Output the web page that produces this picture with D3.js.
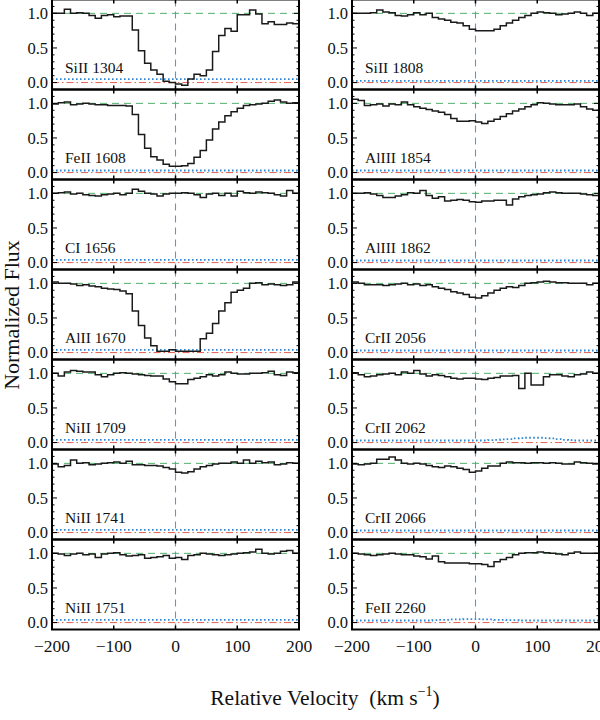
<!DOCTYPE html>
<html><head><meta charset="utf-8">
<script src="https://cdn.jsdelivr.net/npm/d3@7"></script>
<style>body{margin:0;background:#fff}svg{display:block}
text{font-family:"Liberation Serif","Times New Roman",Times,"DejaVu Serif",serif;}</style>
</head><body><svg id="c" width="600" height="720"></svg>
<script>
const velocityEdges = [-200,-190,-180,-170,-160,-150,-140,-130,-120,-110,-100,-90,-80,-70,-60,-50,-40,-30,-20,-10,0,10,20,30,40,50,60,70,80,90,100,110,120,130,140,150,160,170,180,190,200];
const xTicks = [-200,-100,0,100,200];
const yTicks = [0.0,0.5,1.0];
const leftLabels = ["SiII 1304","FeII 1608","CI 1656","AlII 1670","NiII 1709","NiII 1741","NiII 1751"];
const rightLabels = ["SiII 1808","AlIII 1854","AlIII 1862","CrII 2056","CrII 2062","CrII 2066","FeII 2260"];

const fluxSiII1304 = [1.0,1.0,1.06,1.0,1.01,1.0,0.97,0.93,0.97,0.98,0.95,0.96,0.96,0.76,0.46,0.28,0.18,0.12,0.02,0.0,-0.02,-0.04,0.05,0.12,0.10,0.18,0.45,0.68,0.78,0.74,0.98,0.98,1.05,0.99,0.85,0.88,0.84,0.84,0.86,0.85];
const fluxFeII1608 = [0.99,1.01,1.02,0.98,0.99,1.0,0.99,0.98,0.98,0.97,0.97,0.97,0.96,0.84,0.55,0.35,0.23,0.18,0.12,0.09,0.09,0.10,0.13,0.22,0.32,0.47,0.63,0.73,0.82,0.88,0.93,0.97,0.98,0.99,1.0,1.03,1.05,1.02,1.0,1.01];
const fluxCI1656 = [1.0,1.01,1.02,0.99,1.0,0.98,0.97,0.96,0.98,0.99,1.0,0.98,1.0,1.06,1.03,1.0,0.99,0.96,0.99,1.0,1.0,1.01,1.0,0.98,0.94,0.99,1.0,0.97,1.0,0.96,1.03,1.01,1.0,1.02,1.01,1.0,0.98,0.96,1.04,1.0];
const fluxAlII1670 = [1.02,1.0,1.0,0.99,0.97,0.98,0.96,0.95,0.93,0.92,0.91,0.89,0.85,0.6,0.39,0.21,0.1,0.02,0.02,0.04,0.02,0.02,0.02,0.02,0.2,0.28,0.42,0.6,0.72,0.87,0.9,0.93,1.0,1.01,0.98,0.99,0.98,0.97,0.98,1.02];
const fluxNiII1709 = [1.0,0.96,1.02,1.04,1.03,1.02,1.02,0.98,0.95,0.98,1.0,1.01,1.0,0.99,0.98,0.97,0.96,0.96,0.92,0.88,0.85,0.85,0.91,0.93,0.95,0.98,0.96,0.98,1.02,1.0,0.99,0.99,1.0,1.0,1.01,1.03,0.98,0.97,1.02,1.01];
const fluxNiII1741 = [0.99,0.95,0.97,1.05,1.0,1.01,0.98,0.99,1.0,1.01,1.02,1.0,1.03,0.98,0.98,0.97,0.97,0.96,0.94,0.92,0.87,0.86,0.88,0.92,0.95,0.97,0.99,1.0,1.0,1.02,1.0,1.05,1.0,1.03,1.01,1.02,0.98,0.99,1.01,1.0];
const fluxNiII1751 = [1.0,0.99,0.97,0.99,1.0,0.98,0.99,0.94,0.99,1.0,1.01,0.98,0.96,0.97,0.98,0.93,0.94,0.95,0.97,0.93,0.94,0.91,0.97,0.98,1.0,0.99,0.98,0.97,0.98,0.99,1.0,1.01,1.02,1.06,1.0,0.99,1.0,1.03,1.04,1.0];
const fluxSiII1808 = [1.0,1.0,1.0,1.01,1.05,1.02,1.01,0.97,0.96,0.98,1.01,0.98,1.0,0.94,0.92,0.9,0.87,0.86,0.82,0.77,0.75,0.75,0.75,0.77,0.82,0.86,0.9,0.94,0.97,1.0,1.02,1.01,1.0,0.98,0.99,1.0,1.02,1.0,0.97,1.0];
const fluxAlIII1854 = [1.06,1.04,0.97,0.98,0.99,0.96,0.99,0.98,1.02,0.98,0.95,0.93,0.91,0.89,0.87,0.84,0.78,0.74,0.74,0.75,0.73,0.71,0.74,0.77,0.81,0.85,0.89,0.92,0.95,0.98,1.01,1.0,0.99,0.98,0.98,0.98,0.99,0.95,0.92,0.9];
const fluxAlIII1862 = [1.0,1.0,1.01,0.99,0.97,0.94,0.94,0.96,0.98,1.01,1.0,1.04,0.97,0.93,0.95,0.89,0.9,0.91,0.9,0.88,0.87,0.89,0.89,0.9,0.9,0.83,0.92,0.95,0.97,0.98,0.99,1.01,1.02,1.01,1.0,1.0,1.0,0.99,0.98,0.97];
const fluxCrII2056 = [1.02,1.0,0.98,0.98,0.98,0.97,0.98,0.99,1.0,0.98,0.99,0.97,0.98,0.95,0.93,0.91,0.88,0.86,0.84,0.8,0.79,0.82,0.86,0.9,0.93,0.95,0.94,0.97,1.0,1.01,1.02,1.03,1.02,1.01,1.01,1.0,1.0,1.0,0.98,1.0];
const fluxCrII2062 = [1.01,0.98,0.95,0.96,0.98,0.99,1.0,0.98,1.02,1.0,1.04,0.99,0.96,0.98,0.97,0.95,0.93,0.92,0.93,0.93,0.92,0.91,0.93,0.94,0.96,0.96,0.97,0.78,1.0,0.83,0.83,0.95,0.98,0.98,0.96,0.95,0.98,0.99,1.02,1.0];
const fluxCrII2066 = [0.99,0.98,0.99,1.0,1.06,1.06,1.09,1.05,1.0,0.99,1.0,0.99,0.97,0.95,0.94,0.96,0.95,0.93,0.91,0.87,0.89,0.93,0.96,0.96,1.0,1.02,1.01,1.01,1.0,1.01,1.01,1.0,1.01,1.0,0.99,0.99,1.02,1.01,1.0,0.99];
const fluxFeII2260 = [1.0,0.99,0.98,0.97,0.98,0.99,1.0,0.99,0.98,0.98,0.96,0.95,0.92,0.96,0.88,0.86,0.86,0.86,0.86,0.85,0.85,0.84,0.81,0.88,0.91,0.94,0.98,1.0,1.01,1.01,1.02,1.01,1.0,0.99,0.98,1.0,1.02,1.0,1.0,1.0];

const errLevels = [0.05,0.03,0.04,0.04,0.04,0.04,0.04, 0.025,0.03,0.03,0.03,0.03,0.03,0.03];
const errCrII2062 = [0.03,0.03,0.03,0.03,0.03,0.03,0.03,0.03,0.03,0.03,0.03,0.03,0.03,0.03,0.03,0.03,0.03,0.03,0.03,0.03,0.03,0.03,0.035,0.04,0.045,0.05,0.06,0.065,0.07,0.07,0.07,0.065,0.06,0.05,0.04,0.035,0.03,0.03,0.03,0.03];
const errFeII2260 = [0.03,0.03,0.03,0.03,0.03,0.03,0.03,0.03,0.03,0.03,0.03,0.03,0.03,0.035,0.04,0.04,0.045,0.045,0.05,0.05,0.05,0.045,0.045,0.04,0.04,0.035,0.035,0.03,0.03,0.03,0.03,0.03,0.03,0.03,0.03,0.03,0.03,0.03,0.03,0.03];

const leftFlux = [fluxSiII1304,fluxFeII1608,fluxCI1656,fluxAlII1670,fluxNiII1709,fluxNiII1741,fluxNiII1751];
const rightFlux = [fluxSiII1808,fluxAlIII1854,fluxAlIII1862,fluxCrII2056,fluxCrII2062,fluxCrII2066,fluxFeII2260];
const errArrays = {"CrII 2062":errCrII2062,"FeII 2260":errFeII2260};

const svg = d3.select("#c");
const panelH = 90, top0 = -0.5;
const cols = [{x0:52,x1:299,labels:leftLabels,flux:leftFlux},{x0:352,x1:599,labels:rightLabels,flux:rightFlux}];

const yMinor = d3.range(0,13).map(i=>-0.1+i*0.1);

cols.forEach((col,ci)=>{
  const x = d3.scaleLinear().domain([-200,200]).range([col.x0,col.x1]);
  col.labels.forEach((lab,pi)=>{
    const t = top0 + pi*panelH;
    const y = d3.scaleLinear().domain([-0.1,1.2]).range([t+panelH,t]);
    const g = svg.append("g");
    const clipId = "clip"+ci+"_"+pi;
    g.append("clipPath").attr("id",clipId).append("rect").attr("x",col.x0).attr("y",t).attr("width",col.x1-col.x0).attr("height",panelH);
    const inner = g.append("g").attr("clip-path","url(#"+clipId+")");
    inner.append("line").attr("x1",x(-200)).attr("x2",x(200)).attr("y1",y(1)).attr("y2",y(1))
      .attr("stroke","#52b06b").attr("stroke-width",1).attr("stroke-dasharray","7,5");
    inner.append("line").attr("x1",x(-200)).attr("x2",x(200)).attr("y1",y(0)).attr("y2",y(0))
      .attr("stroke","#e5604f").attr("stroke-width",1).attr("stroke-dasharray","7,3,1.5,3");
    inner.append("line").attr("x1",x(0)).attr("x2",x(0)).attr("y1",t).attr("y2",t+panelH)
      .attr("stroke","#4d9be2").attr("stroke-width",1.1).attr("stroke-dasharray","7,5");
    const eArr = errArrays[lab];
    const lvl = errLevels[ci*7+pi];
    const errPts = velocityEdges.map((v,i)=>[v, eArr ? eArr[Math.min(i,39)] : lvl]);
    inner.append("path").attr("d",d3.line().x(d=>x(d[0])).y(d=>y(d[1])).curve(d3.curveStepAfter)(errPts))
      .attr("fill","none").attr("stroke","#2f86d0").attr("stroke-width",1.8).attr("stroke-dasharray","1.6,2.4");
    const f = col.flux[pi];
    const pts = velocityEdges.map((v,i)=>[v, f[Math.min(i,39)]]);
    inner.append("path").attr("d",d3.line().x(d=>x(d[0])).y(d=>y(d[1])).curve(d3.curveStepAfter)(pts))
      .attr("fill","none").attr("stroke","#1a1a1a").attr("stroke-width",1.5);
    const tk = g.append("g").attr("stroke","#000");
    xTicks.forEach(v=>{
      tk.append("line").attr("x1",x(v)).attr("x2",x(v)).attr("y1",t).attr("y2",t+4).attr("stroke-width",1.5);
      tk.append("line").attr("x1",x(v)).attr("x2",x(v)).attr("y1",t+panelH).attr("y2",t+panelH-4).attr("stroke-width",1.5);
    });
    yMinor.forEach(v=>{
      const major = yTicks.some(m=>Math.abs(m-v)<1e-6);
      const len = major?5:2.5;
      tk.append("line").attr("x1",col.x0).attr("x2",col.x0+len).attr("y1",y(v)).attr("y2",y(v)).attr("stroke-width",1);
      tk.append("line").attr("x1",col.x1).attr("x2",col.x1-len).attr("y1",y(v)).attr("y2",y(v)).attr("stroke-width",1);
    });
    g.append("rect").attr("x",col.x0).attr("y",t).attr("width",col.x1-col.x0).attr("height",panelH)
      .attr("fill","none").attr("stroke","#000").attr("stroke-width",2);
    yTicks.forEach(v=>{
      g.append("text").attr("x",col.x0-4).attr("y",y(v)).attr("dy","0.35em").attr("text-anchor","end")
        .attr("font-size",16.5).attr("fill","#111").text(d3.format(".1f")(v));
    });
    g.append("text").attr("x",x(-200)+13).attr("y",y(0.135)).attr("font-size",15.5)
      .attr("fill","#111").text(lab);
    if(pi===col.labels.length-1){
      xTicks.forEach(v=>{
        g.append("text").attr("x",x(v)).attr("y",t+panelH+22).attr("text-anchor","middle")
          .attr("font-size",17.5).attr("fill","#111").text(v<0?"\u2212"+Math.abs(v):String(v));
      });
    }
  });
});

const xt = svg.append("text").attr("x",325).attr("y",705).attr("text-anchor","middle")
  .attr("font-size",21.5).attr("fill","#111");
xt.append("tspan").text("Relative Velocity\u00a0\u00a0(km s");
xt.append("tspan").attr("dy",-9).attr("font-size",14).text("\u22121");
xt.append("tspan").attr("dy",9).text(")");
svg.append("text").attr("transform","translate(19,315) rotate(-90)").attr("text-anchor","middle")
  .attr("font-size",22).attr("fill","#111").text("Normalized Flux");
</script></body></html>
